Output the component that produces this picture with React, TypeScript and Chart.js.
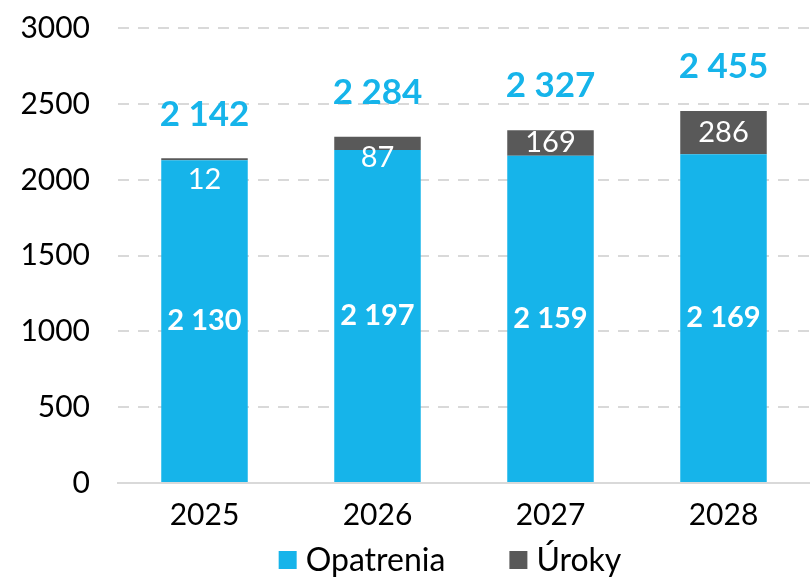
import React, { useEffect, useRef } from "react";
import { Chart, registerables } from "chart.js";

Chart.register(...registerables);

const categories = ["2025", "2026", "2027", "2028"];
const opatrenia = [2130, 2197, 2159, 2169];
const uroky = [12, 87, 169, 286];
const totals = [2142, 2284, 2327, 2455];
const seriesNames = ["Opatrenia", "Úroky"];
const yMin = 0;
const yMax = 3000;
const yStep = 500;

const BLUE = "#16B4EA";
const GREY = "#595959";
const GRID = "#D9D9D9";
const FONT = "Lato, 'Open Sans', sans-serif";

const fmt = (v: number) => String(v).replace(/\B(?=(\d{3})+(?!\d))/g, " ");

const labelPlugin = {
  id: "barLabels",
  afterDatasetsDraw(chart: any) {
    const ctx = chart.ctx;
    const m0 = chart.getDatasetMeta(0).data;
    const m1 = chart.getDatasetMeta(1).data;
    ctx.save();
    ctx.textAlign = "center";
    ctx.textBaseline = "middle";
    for (let i = 0; i < categories.length; i++) {
      const b0 = m0[i];
      const b1 = m1[i];
      ctx.fillStyle = "#FFFFFF";
      ctx.font = `bold 29px ${FONT}`;
      ctx.fillText(fmt(opatrenia[i]), b0.x, (b0.y + b0.base) / 2);
      const h = b1.base - b1.y;
      const cy = h >= 24 ? (b1.y + b1.base) / 2 : b1.y + 21;
      ctx.font = `29px ${FONT}`;
      ctx.fillText(fmt(uroky[i]), b1.x, cy);
      ctx.fillStyle = BLUE;
      ctx.font = `bold 35px ${FONT}`;
      ctx.fillText(fmt(totals[i]), b1.x, b1.y - 44);
    }
    ctx.restore();
  },
};

const legendPlugin = {
  id: "customLegend",
  afterDraw(chart: any) {
    const ctx = chart.ctx;
    ctx.save();
    ctx.font = `32px ${FONT}`;
    ctx.textBaseline = "middle";
    ctx.textAlign = "left";
    const ds = chart.data.datasets;
    const box = 18;
    const gapText = 9;
    const gapItem = 64;
    const widths = ds.map((d: any) => box + gapText + ctx.measureText(d.label).width);
    const total = widths.reduce((a: number, b: number) => a + b, 0) + gapItem * (ds.length - 1);
    const cx = 450;
    const cy = 560;
    let x = cx - total / 2;
    ds.forEach((d: any, i: number) => {
      ctx.fillStyle = d.backgroundColor;
      ctx.fillRect(x, cy - box / 2, box, box);
      ctx.fillStyle = "#000000";
      ctx.fillText(d.label, x + box + gapText, cy + 1);
      x += widths[i] + gapItem;
    });
    ctx.restore();
  },
};

export default function App() {
  const ref = useRef<HTMLCanvasElement | null>(null);
  useEffect(() => {
    if (!ref.current) return;
    const chart = new Chart(ref.current, {
      type: "bar",
      data: {
        labels: categories,
        datasets: [
          { label: seriesNames[0], data: opatrenia, backgroundColor: BLUE, barPercentage: 0.5, categoryPercentage: 1 },
          { label: seriesNames[1], data: uroky, backgroundColor: GREY, barPercentage: 0.5, categoryPercentage: 1 },
        ],
      },
      options: {
        animation: false,
        responsive: true,
        maintainAspectRatio: false,
        layout: { padding: { top: 0, right: 0, left: 0, bottom: 0 } },
        plugins: { legend: { display: false }, tooltip: { enabled: false } },
        scales: {
          x: {
            stacked: true,
            grid: { display: false, drawTicks: false },
            border: { display: true, color: GRID, width: 2 },
            ticks: { color: "#000000", font: { family: FONT, size: 30 }, padding: 14 },
            afterFit: (s: any) => { s.height = 94; },
          },
          y: {
            stacked: true,
            min: yMin,
            max: yMax,
            ticks: {
              stepSize: yStep,
              color: "#000000",
              font: { family: FONT, size: 30, lineHeight: 0.02 },
              padding: 28,
              callback: (v: any) => String(v),
            },
            grid: {
              drawTicks: false,
              color: (c: any) => (c.tick && c.tick.value === 0 ? "rgba(0,0,0,0)" : GRID),
              lineWidth: 2,
            },
            border: { display: false, dash: [11, 9] },
            afterFit: (s: any) => { s.width = 118; },
          },
        },
      },
      plugins: [labelPlugin, legendPlugin],
    });
    return () => chart.destroy();
  }, []);
  return (
    <div style={{ position: "absolute", left: 0, top: 0, width: 810, height: 577 }}>
      <canvas ref={ref} />
    </div>
  );
}
